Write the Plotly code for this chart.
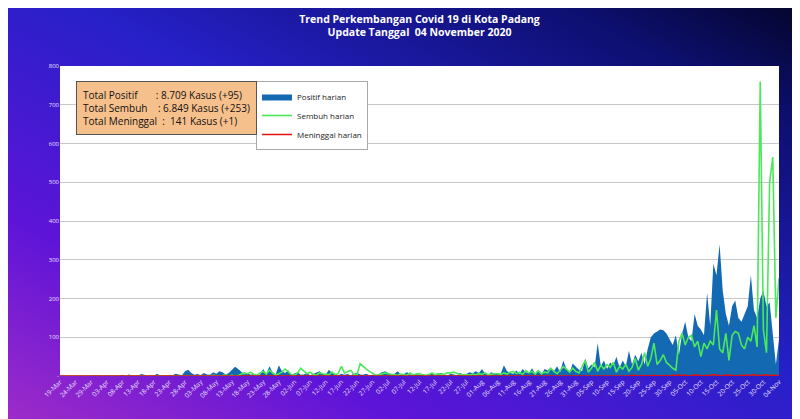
import base64
import pandas as pd
import plotly.graph_objects as go

positif = [
    0,0,0,0,0, 1,0,0,1,0, 0,2,1,0,0, 1,0,2,0,1, 3,0,4,2,0, 1,5,3,0,2,
    0,6,2,1,0, 3,2,6,4,2, 12,16,8,3,5, 2,8,4,3,10, 6,12,10,4,8, 15,24,18,10,4,
    8,3,6,2,4, 18,5,25,10,4, 28,12,8,15,3, 6,10,3,4,8, 2,5,8,12,6, 3,16,8,4,2,
    6,3,5,2,6, 8,4,3,6,2, 3,2,5,10,12, 8,4,6,12,3, 5,10,4,2,6, 3,5,2,4,6,
    2,4,8,3,2, 6,3,2,8,4, 5,10,7,12,8, 18,6,3,10,5, 8,6,28,12,8, 6,14,5,18,10,
    8,20,6,12,4, 18,14,22,12,25, 10,40,18,8,32, 24,16,12,45,20, 30,22,85,25,40, 18,35,28,50,22,
    40,25,65,30,55, 38,60,30,70,100, 110,115,120,118,110, 95,80,105,55,110, 140,100,90,160,130, 120,105,215,130,290,
    260,340,220,160,130, 180,195,150,140,160, 180,260,170,150,200, 220,180,190,100,30, 95,
]
sembuh = [
    0,0,0,0,0, 0,0,0,0,0, 0,0,0,0,0, 0,0,0,0,0, 0,0,0,1,0, 0,0,0,0,0,
    0,0,1,0,0, 0,0,0,0,0, 0,0,0,0,0, 0,1,0,0,2, 0,0,1,3,0, 2,0,1,5,8,
    6,10,4,2,8, 12,5,15,8,2, 6,10,18,12,4, 2,8,20,14,6, 10,4,2,8,6, 5,3,10,4,6,
    25,8,12,15,4, 3,32,24,18,12, 6,2,3,5,8, 6,4,3,2,5, 4,2,8,3,5, 6,3,2,4,8,
    3,6,4,5,8, 8,10,6,4,3, 4,2,5,3,6, 4,8,3,5,6, 6,4,8,5,10, 12,6,10,4,14,
    8,12,5,14,6, 10,8,20,12,6, 15,24,18,10,20, 12,8,25,40,10, 20,35,12,28,18, 30,22,35,10,25,
    18,30,12,22,45, 15,30,60,25,45, 85,30,40,55,35, 28,20,15,90,110, 80,100,105,75,90, 50,85,70,90,80,
    170,70,60,110,40, 105,115,110,80,70, 100,90,130,75,760, 120,60,500,565,150, 253,
]
meninggal = [
    0,0,0,0,0, 0,0,0,0,0, 0,0,0,0,0, 0,0,0,0,0, 0,0,0,0,0, 0,0,0,0,0,
    0,0,0,0,0, 0,0,0,0,0, 0,0,0,0,0, 0,0,0,0,0, 0,0,0,0,0, 0,0,0,0,0,
    0,0,0,0,0, 0,0,0,0,0, 0,0,0,0,0, 0,0,0,0,0, 0,0,0,0,0, 0,0,0,0,0,
    0,0,0,0,0, 0,0,0,0,0, 0,0,0,0,0, 0,0,0,0,0, 0,0,0,0,0, 0,0,0,0,0,
    0,0,0,0,0, 0,0,0,0,0, 0,0,0,0,0, 0,1,0,0,0, 0,0,0,0,0, 0,0,1,0,0,
    0,0,0,0,0, 0,1,0,0,0, 0,0,0,1,0, 0,0,0,0,1, 0,0,1,0,0, 0,1,0,0,0,
    1,0,0,2,0, 0,1,0,1,0, 2,0,1,0,1, 0,2,1,3,1, 2,1,0,3,2, 1,0,2,1,4,
    2,1,0,3,1, 2,0,1,2,1, 3,1,4,2,1, 2,3,1,2,1, 1,
]
ytick_vals = [0, 100, 200, 300, 400, 500, 600, 700, 800]
ytick_text = ["-", "100", "200", "300", "400", "500", "600", "700", "800"]

dates = pd.date_range("2020-03-19", periods=len(positif), freq="D")
tick_dates = dates[::5]

fig = go.Figure()
fig.add_trace(go.Scatter(x=dates, y=positif, name="Positif harian", mode="lines",
                         line=dict(width=0, color="#1469b3"), fill="tozeroy",
                         fillcolor="#1469b3"))
fig.add_trace(go.Scatter(x=dates, y=sembuh, name="Sembuh harian", mode="lines",
                         line=dict(width=1.6, color="#4be85a")))
fig.add_trace(go.Scatter(x=dates, y=meninggal, name="Meninggal harian", mode="lines",
                         line=dict(width=1.5, color="#e01010")))

svg = """<svg xmlns='http://www.w3.org/2000/svg' width='800' height='419' preserveAspectRatio='none'>
<defs><linearGradient id='g' x1='0' y1='1' x2='1' y2='0'>
<stop offset='0' stop-color='#a02cc8'/><stop offset='0.25' stop-color='#5e14d8'/>
<stop offset='0.55' stop-color='#2620c8'/><stop offset='0.85' stop-color='#0d0f70'/>
<stop offset='1' stop-color='#04052a'/></linearGradient></defs>
<rect width='800' height='419' fill='url(#g)'/></svg>"""
src = "data:image/svg+xml;base64," + base64.b64encode(svg.encode()).decode()

L, R, T, B = 52, 29, 58, 51
pw, ph = 800 - L - R, 419 - T - B

fig.update_layout(
    width=800, height=419,
    margin=dict(l=L, r=R, t=T, b=B),
    paper_bgcolor="#2a1cc0", plot_bgcolor="white",
    images=[dict(source=src, xref="paper", yref="paper", x=-L/pw, y=1+T/ph,
                 sizex=800/pw, sizey=419/ph, sizing="stretch", layer="below")],
    shapes=[dict(type="rect", xref="paper", yref="paper", x0=0, x1=1, y0=0, y1=1,
                 fillcolor="white", line=dict(width=0), layer="below")],
    title=dict(text="<b>Trend Perkembangan Covid 19 di Kota Padang<br>Update Tanggal  04 November 2020</b>",
               x=0.5, xref="paper", y=0.965, yanchor="top",
               font=dict(family="Open Sans", size=10.5, color="white")),
    xaxis=dict(tickvals=tick_dates, ticktext=[d.strftime("%d-%b") for d in tick_dates],
               tickangle=-45, tickfont=dict(size=6.5, color="#e8e0ff", family="Open Sans"),
               range=[dates[0], dates[-1]], showgrid=False, ticks="", zeroline=False),
    yaxis=dict(tickvals=ytick_vals, ticktext=ytick_text, range=[0, 800],
               tickfont=dict(size=6, color="#e8e0ff", family="Open Sans"),
               gridcolor="#c8c8c8", gridwidth=1, zeroline=False),
    legend=dict(x=(248-L)/pw, y=(368-73)/ph, xanchor="left", yanchor="top",
                bgcolor="white", bordercolor="#aaaaaa", borderwidth=1, itemwidth=30,
                font=dict(size=8, family="Open Sans", color="#222"), tracegroupgap=2),
    showlegend=True,
)
nb = "\u00a0"
txt = (f"Total Positif{nb*7}: 8.709 Kasus (+95)<br>"
       f"Total Sembuh{nb*4}: 6.849 Kasus (+253)<br>"
       f"Total Meninggal{nb*2}:{nb*2}141 Kasus (+1)")
fig.add_annotation(text=txt, xref="paper", yref="paper", x=(68-L)/pw, y=(368-73)/ph,
                   xanchor="left", yanchor="top", align="left", showarrow=False,
                   bgcolor="#f6c08c", bordercolor="#555555", borderwidth=1, borderpad=6,
                   font=dict(size=10, family="Open Sans", color="#111"))
fig.write_html("out.html")
